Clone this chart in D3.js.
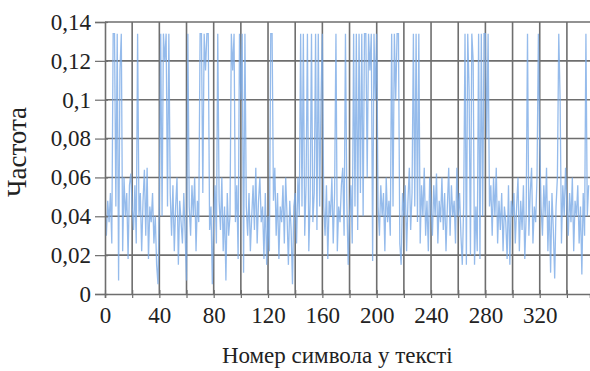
<!DOCTYPE html>
<html>
<head>
<meta charset="utf-8">
<script src="https://cdn.jsdelivr.net/npm/d3@7"></script>
<style>
  body { margin: 0; background: #ffffff; }
  svg { display: block; }
</style>
</head>
<body>
<div id="chart"></div>
<script>
// frequency of the letter at each position in the text (index = symbol number)
const freq = [
  0.045, 0.03, 0.048, 0.037, 0.052, 0.026, 0.134, 0.134, 0.045, 0.134, 0.007, 0.115, 0.134, 0.022, 0.06, 0.04, 0.052, 0.018, 0.056, 0.062,
  0.045, 0.033, 0.056, 0.026, 0.134, 0.04, 0.052, 0.022, 0.048, 0.064, 0.03, 0.065, 0.018, 0.045, 0.037, 0.052, 0.026, 0.04, 0.015, 0.005,
  0.045, 0.134, 0.04, 0.134, 0.12, 0.134, 0.045, 0.134, 0.052, 0.03, 0.056, 0.022, 0.045, 0.06, 0.015, 0.048, 0.037, 0.026, 0.052, 0.03,
  0.007, 0.134, 0.045, 0.03, 0.056, 0.04, 0.06, 0.022, 0.048, 0.037, 0.134, 0.134, 0.052, 0.134, 0.115, 0.134, 0.134, 0.033, 0.045, 0.005,
  0.04, 0.056, 0.026, 0.134, 0.048, 0.033, 0.06, 0.022, 0.045, 0.007, 0.052, 0.03, 0.04, 0.134, 0.115, 0.134, 0.037, 0.056, 0.018, 0.134,
  0.1, 0.134, 0.011, 0.134, 0.045, 0.03, 0.052, 0.022, 0.04, 0.056, 0.033, 0.065, 0.026, 0.048, 0.06, 0.037, 0.045, 0.018, 0.052, 0.015,
  0.04, 0.022, 0.134, 0.134, 0.048, 0.065, 0.03, 0.052, 0.018, 0.045, 0.037, 0.056, 0.026, 0.06, 0.04, 0.015, 0.048, 0.033, 0.005, 0.045,
  0.052, 0.026, 0.06, 0.04, 0.134, 0.045, 0.134, 0.03, 0.056, 0.134, 0.022, 0.048, 0.134, 0.037, 0.052, 0.134, 0.033, 0.134, 0.045, 0.1,
  0.134, 0.045, 0.03, 0.056, 0.018, 0.048, 0.04, 0.06, 0.026, 0.052, 0.134, 0.022, 0.045, 0.037, 0.056, 0.065, 0.03, 0.134, 0.048, 0.015,
  0.04, 0.056, 0.026, 0.134, 0.045, 0.134, 0.033, 0.134, 0.052, 0.134, 0.04, 0.134, 0.134, 0.06, 0.134, 0.115, 0.134, 0.017, 0.134, 0.1,
  0.134, 0.045, 0.03, 0.056, 0.04, 0.052, 0.022, 0.06, 0.037, 0.048, 0.03, 0.134, 0.045, 0.134, 0.1, 0.134, 0.134, 0.026, 0.015, 0.052,
  0.04, 0.056, 0.022, 0.048, 0.065, 0.033, 0.052, 0.134, 0.045, 0.134, 0.037, 0.134, 0.026, 0.056, 0.04, 0.065, 0.03, 0.048, 0.022, 0.06,
  0.045, 0.03, 0.056, 0.04, 0.062, 0.026, 0.048, 0.037, 0.06, 0.033, 0.052, 0.022, 0.045, 0.065, 0.03, 0.056, 0.04, 0.048, 0.026, 0.065,
  0.04, 0.052, 0.03, 0.015, 0.045, 0.134, 0.015, 0.134, 0.105, 0.02, 0.134, 0.12, 0.015, 0.045, 0.022, 0.134, 0.018, 0.134, 0.04, 0.134,
  0.134, 0.08, 0.134, 0.045, 0.056, 0.03, 0.06, 0.04, 0.065, 0.026, 0.048, 0.033, 0.052, 0.022, 0.045, 0.037, 0.018, 0.056, 0.015, 0.048,
  0.04, 0.052, 0.026, 0.045, 0.06, 0.022, 0.048, 0.033, 0.056, 0.018, 0.04, 0.134, 0.03, 0.052, 0.065, 0.026, 0.045, 0.037, 0.06, 0.134,
  0.077, 0.045, 0.03, 0.056, 0.04, 0.065, 0.022, 0.048, 0.011, 0.052, 0.033, 0.008, 0.045, 0.06, 0.134, 0.1, 0.026, 0.056, 0.04, 0.065,
  0.045, 0.03, 0.052, 0.037, 0.06, 0.022, 0.048, 0.04, 0.056, 0.026, 0.045, 0.01, 0.052, 0.03, 0.134, 0.04, 0.056
];

const xTicks = [0, 40, 80, 120, 160, 200, 240, 280, 320];
const yTicks = [0, 0.02, 0.04, 0.06, 0.08, 0.1, 0.12, 0.14];
const xTitle = "Номер символа у тексті";
const yTitle = "Частота";

const W = 590, H = 371;
const margin = {top: 22, right: 0, bottom: 77, left: 105};
const width = W - margin.left - margin.right;
const height = H - margin.top - margin.bottom;
const serif = "'Liberation Serif'";

const svg = d3.select("#chart")
  .append("svg")
  .attr("width", W)
  .attr("height", H);

const g = svg.append("g")
  .attr("transform", "translate(" + margin.left + "," + margin.top + ")");

// scales: the original figure is cropped on the right, so the domain runs past 340
const x = d3.scaleLinear().domain([0, 357]).range([0, width]);
const y = d3.scaleLinear().domain([0, 0.14]).range([height, 0]);

const fmt = v => String(+v.toFixed(2)).replace(".", ",");
const gridColor = "#6e6e6e";

// grid
g.append("g")
  .selectAll("line")
  .data(d3.range(20, 357, 20))
  .join("line")
  .attr("x1", d => x(d)).attr("x2", d => x(d))
  .attr("y1", 0).attr("y2", height)
  .attr("stroke", gridColor)
  .attr("stroke-width", 1.6);

g.append("g")
  .selectAll("line")
  .data(yTicks.slice(1))
  .join("line")
  .attr("x1", 0).attr("x2", width)
  .attr("y1", d => y(d)).attr("y2", d => y(d))
  .attr("stroke", gridColor)
  .attr("stroke-width", 1.6);

// data line
g.append("clipPath").attr("id", "clip")
  .append("rect").attr("width", width).attr("height", height);

const line = d3.line()
  .x((d, i) => x(i))
  .y(d => y(d));

g.append("path")
  .datum(freq)
  .attr("clip-path", "url(#clip)")
  .attr("fill", "none")
  .attr("stroke", "#7aaae6")
  .attr("stroke-opacity", 0.8)
  .attr("stroke-width", 1.3)
  .attr("d", line);

// x axis
const xAxis = g.append("g")
  .attr("transform", "translate(0," + height + ")")
  .call(d3.axisBottom(x).tickValues(d3.range(0, 357, 20)).tickSize(4).tickFormat(d => xTicks.includes(d) ? d : ""));
xAxis.select(".domain").attr("stroke", gridColor).attr("stroke-width", 1.6);
xAxis.selectAll(".tick line").attr("stroke", gridColor).attr("y1", -4).attr("stroke-width", 1.2);
xAxis.selectAll(".tick text")
  .attr("y", 13)
  .attr("fill", "#222")
  .style("font-family", serif)
  .style("font-size", "23px");

// y axis
const yAxis = g.append("g")
  .call(d3.axisLeft(y).tickValues(yTicks).tickSize(10).tickPadding(4).tickFormat(fmt));
yAxis.select(".domain").attr("stroke", gridColor).attr("stroke-width", 1.6);
yAxis.selectAll(".tick line").attr("stroke", gridColor).attr("x2", -10).attr("x1", 3).attr("stroke-width", 1.2);
yAxis.selectAll(".tick text")
  .attr("fill", "#222")
  .style("font-family", serif)
  .style("font-size", "23px");

// axis titles
svg.append("text")
  .attr("text-anchor", "middle")
  .attr("x", margin.left + x(171))
  .attr("y", 363)
  .attr("fill", "#222")
  .style("font-family", serif)
  .style("font-size", "23px")
  .text(xTitle);

svg.append("text")
  .attr("text-anchor", "middle")
  .attr("transform", "translate(26,152) rotate(-90)")
  .attr("fill", "#222")
  .style("font-family", serif)
  .style("font-size", "27px")
  .text(yTitle);
</script>
</body>
</html>
